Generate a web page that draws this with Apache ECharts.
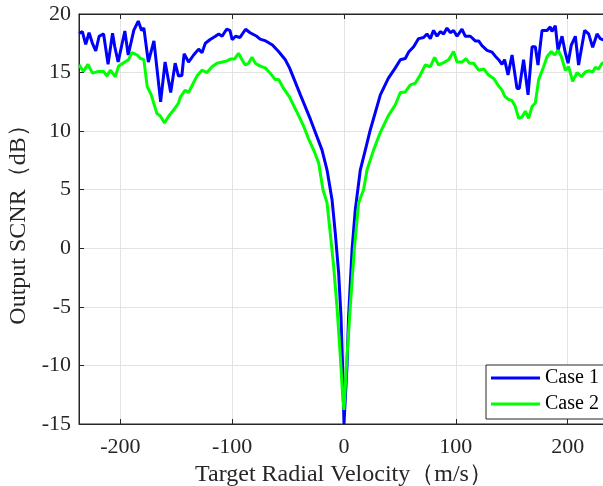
<!DOCTYPE html>
<html>
<head>
<meta charset="utf-8">
<script src="https://cdn.jsdelivr.net/npm/echarts@6/dist/echarts.min.js"></script>
<style>
  html, body { margin: 0; padding: 0; background: #fff; }
  #main { width: 603px; height: 486px; }
</style>
</head>
<body>
<div id="main"></div>
<script>
// Case 1 (blue)
var vel1 = [-237,-234,-231,-228,-225,-222,-219,-215,-211,-207,-205,-202,-196,-193,-188,-184,-181,-179,-175,-170,
  -164,-160,-155,-151,-148,-145,-143,-139,-134.5,-130,-127,-124,-120,-115,-112,-109,-105,-102,-100,-97,
  -93,-88,-84,-78,-75,-70,-64,-58.5,-52.5,-48.7,-39,-30,-19.7,-15.2,-10.7,-7.8,-4.8,-2.7,-1.25,0,
  2.7,4.1,7.2,10.1,14.6,19.1,23.5,32.5,39.6,45.9,50.4,54.8,57.8,62.3,66.7,71.2,74.2,77.2,80.1,83.2,
  86.1,89.1,92.1,95.1,98,101.1,105.5,108.5,113,117.4,120.4,123.4,127.9,132.4,135.3,138.3,141.3,143.6,146.7,150.3,
  154.7,156.8,160.6,164.6,168.2,171.1,173.5,177.1,181.6,184.5,186,189,191.4,195,197.9,200.4,203.3,206.9,209.8,215.2,
  218.8,222.4,226.3,229.2,231.3,236];
var snr1 = [18.35,18.5,17.4,18.4,17.5,16.85,18.1,18.3,15.7,18.35,17.2,15.9,18.55,16.5,18.6,19.4,18.6,18.8,15.9,17.7,
  12.5,15.9,13.3,15.8,14.7,14.75,16.6,15.9,16.5,17.0,16.7,17.5,17.8,18.1,18.3,18.1,18.7,18.6,17.8,18.1,
  18.0,18.7,18.4,18.1,17.85,17.7,17.35,16.8,16.1,15.4,13.1,11.0,8.4,6.7,4.15,1.3,-2.1,-5.8,-10.1,-15,
  -10,-5.8,-0.1,3.3,6.7,8.4,10.1,13.1,14.5,15.4,16.1,16.2,16.75,17.2,17.9,18.0,18.3,17.9,18.6,18.1,
  18.5,18.3,18.8,18.4,18.6,18.1,18.7,18.1,18.1,17.7,17.7,17.3,16.9,16.75,16.4,16.1,15.7,16.1,14.8,16.5,
  13.65,13.65,16.1,13.1,17.2,17.2,15.65,18.6,18.6,18.9,18.5,19.0,16.9,18.1,16.7,15.8,17.35,18.1,15.65,18.6,
  18.3,17.15,18.3,17.9,17.8,17.9];

// Case 2 (green)
var vel2 = [-237,-233,-229,-225,-219.5,-215,-212,-209,-204.6,-201.6,-196,-192.7,-189.6,-185,-182,-179,-176,-172.4,-167.3,-164.3,
  -160.5,-157,-152.4,-148,-146.4,-142,-139,-134.5,-131.5,-127,-122.5,-118,-113.6,-109,-104.7,-101.7,-98,-94.3,-91.2,-88.3,
  -85.4,-82.3,-79.3,-75,-70.4,-66,-61.5,-58.5,-54,-48.7,-42.5,-36,-31.5,-27.2,-22.7,-18.8,-15.2,-12.3,-9.3,-6.3,
  -3.3,-0.9,0,2.7,5.6,9.2,13.1,17.5,20.6,26.5,32.5,39.6,45.9,50.4,54.8,59.3,63.8,68.2,72.7,77.2,
  81,84.6,89.1,93.6,98,101.1,105.5,109.1,112.1,115.9,120.4,124.9,129.3,133.8,138.3,141.3,143.6,147.2,150.3,153.2,
  156.2,159.2,162.2,165.1,168.2,171.1,174.1,178.5,181.6,185.4,188.4,191.4,194.4,197.9,200.9,204.5,208.4,212.3,215.8,219.4,
  222.4,224.8,227.7,230.8,236];
var snr2 = [15.65,15.1,15.7,14.95,15.1,15.1,14.7,15.2,14.65,15.55,15.9,16.1,16.7,16.5,16.2,16.1,13.8,13.1,11.5,11.3,
  10.7,11.25,11.8,12.4,12.9,13.5,13.3,14.15,14.7,15.2,15.0,15.5,15.8,15.9,16.0,16.15,16.15,16.65,16.1,15.65,
  15.8,16.3,15.8,15.55,15.4,14.95,14.4,14.4,13.65,12.9,11.7,10.4,9.3,8.4,7.3,5.0,3.9,1.3,-1.5,-4.95,
  -9.2,-13.0,-13.8,-9.2,-5.0,-0.1,3.9,5.0,6.7,8.4,9.9,11.3,12.25,13.3,13.35,13.95,14.1,14.8,15.65,15.5,
  16.3,15.65,15.85,16.1,16.8,15.9,15.9,16.2,15.8,15.8,15.2,15.3,14.8,14.5,13.85,13.5,13.0,12.7,12.6,12.1,
  11.1,11.2,11.7,11.1,12.1,12.4,14.4,15.5,16.35,16.8,16.5,16.9,16.35,15.2,15.5,14.25,15.0,14.65,15.05,15.15,
  15.05,15.45,15.3,15.8,15.9];

var seriesNames = ['Case 1', 'Case 2'];
var xName = 'Target Radial Velocity（m/s）';
var yName = 'Output SCNR（dB）';

function pairs(xs, ys) {
  var out = [];
  for (var i = 0; i < xs.length; i++) out.push([xs[i], ys[i]]);
  return out;
}

var FONT = 'Liberation Serif';
var INK = '#262626';

var mychart = echarts.init(document.getElementById('main'));
var option = {
  animation: false,
  backgroundColor: '#fff',
  grid: {
    left: 79, top: 14, bottom: 62, right: -6,
    outerBoundsMode: 'none', containLabel: false,
    show: true, borderColor: INK, borderWidth: 1
  },
  legend: {
    data: seriesNames,
    orient: 'vertical',
    left: 486, top: 365,
    padding: [3, 30, 5, 5],
    itemGap: 6,
    itemWidth: 49, itemHeight: 3,
    itemTextGap: 5,
    icon: 'rect',
    backgroundColor: '#fff',
    borderColor: INK, borderWidth: 1,
    textStyle: { fontFamily: FONT, fontSize: 20, color: '#000' }
  },
  xAxis: [{
    type: 'value', min: -237, max: 237,
    name: xName, nameLocation: 'middle', nameGap: 38,
    nameTextStyle: { fontFamily: FONT, fontSize: 24, color: INK },
    axisLine: { onZero: false, lineStyle: { color: INK } },
    axisTick: { inside: true, length: 5, lineStyle: { color: INK } },
    axisLabel: { fontFamily: FONT, fontSize: 22, color: INK, margin: 12, showMinLabel: false, showMaxLabel: false },
    splitLine: { show: true, lineStyle: { color: '#e3e3e3' } }
  }, {
    type: 'value', position: 'top', min: -237, max: 237,
    axisLine: { onZero: false, lineStyle: { color: INK } },
    axisTick: { inside: true, length: 5, lineStyle: { color: INK } },
    axisLabel: { show: false },
    splitLine: { show: false }
  }],
  yAxis: {
    type: 'value', min: -15, max: 20, interval: 5,
    name: yName, nameLocation: 'middle', nameGap: 42,
    nameTextStyle: { fontFamily: FONT, fontSize: 24, color: INK },
    axisLine: { show: true, onZero: false, lineStyle: { color: INK } },
    axisTick: { show: true, inside: true, length: 5, lineStyle: { color: INK } },
    axisLabel: { fontFamily: FONT, fontSize: 22, color: INK, margin: 8 },
    splitLine: { show: true, lineStyle: { color: '#e3e3e3' } }
  },
  series: [{
    name: seriesNames[0], type: 'line', symbol: 'none', color: '#0000ff',
    lineStyle: { width: 3, color: '#0000ff' },
    data: pairs(vel1, snr1)
  }, {
    name: seriesNames[1], type: 'line', symbol: 'none', color: '#00ff00',
    lineStyle: { width: 3, color: '#00ff00' },
    data: pairs(vel2, snr2)
  }]
};
mychart.setOption(option);
</script>
</body>
</html>
